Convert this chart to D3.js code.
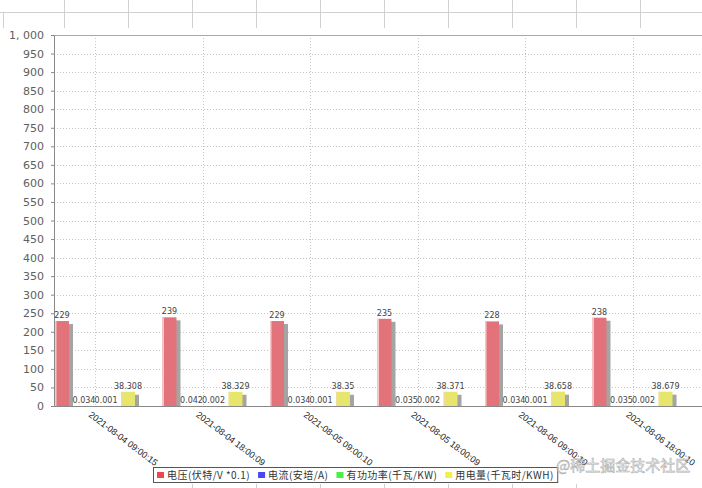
<!DOCTYPE html>
<html><head><meta charset="utf-8">
<script src="https://cdn.jsdelivr.net/npm/d3@7/dist/d3.min.js"></script>
<style>body{margin:0;background:#fff}svg{display:block}</style>
</head><body><svg id="c" width="702" height="488"></svg>
<script>
const categories = ["2021-08-04 09:00:15","2021-08-04 18:00:09","2021-08-05 09:00:10","2021-08-05 18:00:09","2021-08-06 09:00:10","2021-08-06 18:00:10"];
const voltage = [229, 239, 229, 235, 228, 238];
const current = [0.034, 0.042, 0.034, 0.035, 0.034, 0.035];
const power = [0.001, 0.002, 0.001, 0.002, 0.001, 0.002];
const energy = [38.308, 38.329, 38.35, 38.371, 38.658, 38.679];
const seriesNames = ["电压(伏特/V *0.1)", "电流(安培/A)", "有功功率(千瓦/KW)", "用电量(千瓦时/KWH)"];
const yTicks = [0,50,100,150,200,250,300,350,400,450,500,550,600,650,700,750,800,850,900,950,1000];

const series = [voltage, current, power, energy];
const barColors = ["#e3737b", "#6a6ae8", "#6ae86a", "#e6e66c"];
const legendColors = ["#f04848", "#4848f0", "#48f048", "#f0f048"];

const svg = d3.select("#c");
const W = 702, H = 488;
const plot = {l: 54, t: 35, r: 702, b: 406};

// background table lines (decoration)
const bg = svg.append("g").attr("stroke", "#d0d0d0").attr("stroke-width", 1);
bg.append("line").attr("x1", 0).attr("x2", W).attr("y1", 12.5).attr("y2", 12.5);
d3.range(64, W, 64).forEach(x => {
  bg.append("line").attr("x1", x + .5).attr("x2", x + .5).attr("y1", 0).attr("y2", 28);
});
bg.append("line").attr("x1", 3.5).attr("x2", 3.5).attr("y1", 12).attr("y2", 28);
d3.range(192, 600, 64).forEach(x => {
  bg.append("line").attr("x1", x + .5).attr("x2", x + .5).attr("y1", 484).attr("y2", H);
});

const y = d3.scaleLinear().domain([0, 1000]).range([plot.b, plot.t]);
const x = d3.scalePoint().domain(categories).range([95, 632.5]);
const sub = d3.scaleBand().domain(d3.range(4)).range([-40, 40]).paddingInner(0.364).paddingOuter(0);

// gridlines
const grid = svg.append("g");
grid.selectAll(".hg").data(yTicks.slice(1)).join("line")
  .attr("x1", plot.l).attr("x2", plot.r)
  .attr("y1", d => Math.round(y(d)) + .5).attr("y2", d => Math.round(y(d)) + .5)
  .attr("stroke", "#c4c4c4").attr("stroke-dasharray", "1,2");
grid.selectAll(".vg").data(categories).join("line")
  .attr("x1", d => Math.round(x(d)) + .5).attr("x2", d => Math.round(x(d)) + .5)
  .attr("y1", plot.t).attr("y2", plot.b)
  .attr("stroke", "#c4c4c4").attr("stroke-dasharray", "1,2");

// plot border top
svg.append("line").attr("x1", plot.l).attr("x2", plot.r).attr("y1", plot.t + .5).attr("y2", plot.t + .5)
  .attr("stroke", "#a8a8a8");

// y axis
const yAxis = svg.append("g").attr("transform", `translate(${plot.l},0)`)
  .call(d3.axisLeft(y).tickValues(yTicks).tickSize(3).tickPadding(7)
    .tickFormat(d => d3.format(",")(d).replace(",", ", ")));
yAxis.select(".domain").attr("stroke", "#888");
yAxis.selectAll(".tick line").attr("stroke", "#888");
yAxis.selectAll("text").attr("font-family", "DejaVu Sans").attr("font-size", 11).attr("fill", "#606060");

// bars
const groups = svg.append("g").selectAll("g").data(categories).join("g")
  .attr("transform", d => `translate(${x(d)},0)`);
series.forEach((vals, si) => {
  groups.each(function(cat, ci) {
    const g = d3.select(this);
    const v = vals[ci];
    const bx = sub(si), bw = sub.bandwidth();
    const top = y(v), h = plot.b - top;
    if (h > 0.5) {
      g.append("rect").attr("x", bx + 4).attr("y", top + 3).attr("width", bw).attr("height", Math.max(0, h - 3))
        .attr("fill", "#a4a4a4");
      g.append("rect").attr("x", bx).attr("y", top).attr("width", bw).attr("height", h)
        .attr("fill", barColors[si]);
      g.append("rect").attr("x", bx).attr("y", top).attr("width", 1.5).attr("height", h)
        .attr("fill", "#fbd0d0").attr("opacity", si === 0 ? 0.9 : 0.5);
    }
    g.append("text").attr("x", bx + bw / 2).attr("y", top - 3)
      .attr("text-anchor", "middle").attr("font-family", "DejaVu Sans").attr("font-size", 8)
      .attr("fill", "#444").text(v);
  });
});

// x axis line
svg.append("line").attr("x1", plot.l - 3).attr("x2", plot.r).attr("y1", plot.b + .5).attr("y2", plot.b + .5)
  .attr("stroke", "#888");

// x labels rotated
svg.append("g").selectAll("text").data(categories).join("text")
  .attr("transform", d => `translate(${x(d) - 7},${plot.b + 10}) rotate(37)`)
  .attr("font-family", "Liberation Sans").attr("font-size", 9).attr("fill", "#222")
  .text(d => d);

// legend (laid out sequentially)
const legend = svg.append("g");
const box = legend.append("rect").attr("y", 467.5).attr("height", 15)
  .attr("fill", "#fff").attr("stroke", "#555");
let cx = 157;
seriesNames.forEach((n, i) => {
  legend.append("rect").attr("x", cx).attr("y", 472).attr("width", 7).attr("height", 6).attr("fill", legendColors[i]);
  const t = legend.append("text").attr("x", cx + 10).attr("y", 479).attr("font-family", "Noto Sans CJK SC")
    .attr("font-size", 10).attr("letter-spacing", 0.45).attr("fill", "#333").text(n);
  cx += 10 + t.node().getComputedTextLength() + 8;
});
box.attr("x", 153.5).attr("width", cx - 8 + 4 - 153.5);

// watermark
svg.append("text").attr("x", 556).attr("y", 471).attr("font-family", "Noto Sans CJK SC")
  .attr("font-size", 15).attr("fill", "#fff").attr("stroke", "#999").attr("stroke-width", 0.6).attr("opacity", 0.8)
  .text("@稀土掘金技术社区");
</script></body></html>
